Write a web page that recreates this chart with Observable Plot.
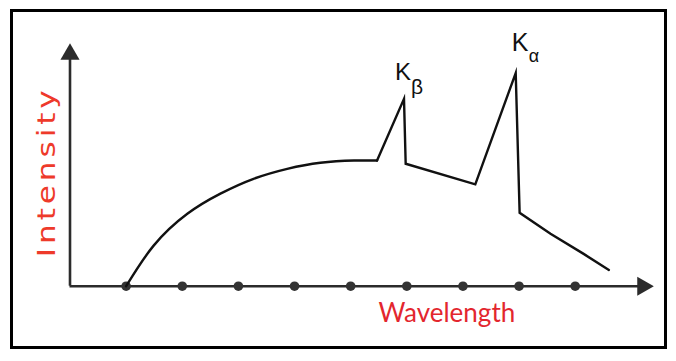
<!DOCTYPE html>
<html><head><meta charset="utf-8">
<script src="https://cdn.jsdelivr.net/npm/d3@7"></script>
<script src="https://cdn.jsdelivr.net/npm/@observablehq/plot@0.6"></script>
<style>
html,body{margin:0;padding:0;background:#fff;}
#wrap{position:relative;width:676px;height:361px;overflow:hidden;background:#fff;}
#wrap svg{position:absolute;left:0;top:0;}
#frame{position:absolute;left:10px;top:9px;width:657px;height:340px;box-sizing:border-box;border:3px solid #000;pointer-events:none;z-index:2;}
</style></head><body>
<div id="wrap"><div id="frame"></div></div>
<script>
// ---- data ----
const xLabel = "Wavelength";
const yLabel = "Intensity";
const dotWavelengths = [1, 2, 3, 4, 5, 6, 7, 8, 9];
const axisXMax = 10.4;
const axisYMax = 10;
// continuous (bremsstrahlung) part
const contX = [1.0, 1.49, 2.09, 2.68, 3.27, 3.87, 4.46, 5.06, 5.47];
const contY = [0, 1.67, 2.98, 3.81, 4.42, 4.83, 5.08, 5.17, 5.17];
// characteristic peaks part
const lineX = [5.47, 5.95, 5.98, 7.22, 7.94, 8.01, 8.56, 9.15, 9.60];
const lineY = [5.17, 7.71, 5.04, 4.19, 8.77, 3.02, 2.16, 1.33, 0.67];
const peakMain = ["K", "K"];
const peakSub = ["β", "α"];
const peakIndex = [1, 4]; // index into lineX/lineY

const cont = contX.map((x, i) => ({x, y: contY[i]}));
const lines = lineX.map((x, i) => ({x, y: lineY[i]}));
const peaks = peakMain.map((m, i) => ({main: m, sub: peakSub[i], x: lineX[peakIndex[i]], y: lineY[peakIndex[i]]}));

const ink = "#2b2b2b";
const plot = Plot.plot({
  width: 676, height: 361,
  marginLeft: 69.5, marginRight: 22.7, marginTop: 42.7, marginBottom: 75.3,
  x: {domain: [0, axisXMax], axis: null},
  y: {domain: [0, axisYMax], axis: null},
  style: {background: "transparent", overflow: "visible"},
  marks: [
    Plot.ruleY([0], {x1: 0, x2: axisXMax - 0.2, stroke: ink, strokeWidth: 2.6}),
    Plot.ruleX([0], {y1: 0, y2: axisYMax - 0.4, stroke: ink, strokeWidth: 2.6}),
    Plot.dot([axisXMax], {x: d => d, y: 0, symbol: "triangle", r: 7.1, fill: ink, stroke: null, rotate: 90, dx: -11}),
    Plot.dot([axisYMax], {x: 0, y: d => d, symbol: "triangle", r: 7.1, fill: ink, stroke: null, dy: 11}),
    Plot.dot(dotWavelengths, {x: d => d, y: 0, r: 4.8, fill: "#333", stroke: null}),
    Plot.line(cont, {x: "x", y: "y", curve: "natural", stroke: "#111", strokeWidth: 2.4}),
    Plot.line(lines, {x: "x", y: "y", curve: "linear", stroke: "#111", strokeWidth: 2.4, strokeLinejoin: "miter", strokeMiterlimit: 20}),
    // peak labels
    Plot.text(peaks.filter((d, i) => i === 0), {x: "x", y: "y", text: "main", textAnchor: "start", lineAnchor: "bottom", dx: -9, dy: -19.3, fontSize: 24, fontFamily: "Liberation Sans", fill: "#111"}),
    Plot.text(peaks.filter((d, i) => i === 0), {x: "x", y: "y", text: "sub", textAnchor: "start", lineAnchor: "bottom", dx: 7, dy: -5, fontSize: 21, fontFamily: "Liberation Sans", fill: "#111"}),
    Plot.text(peaks.filter((d, i) => i === 1), {x: "x", y: "y", text: "main", textAnchor: "start", lineAnchor: "bottom", dx: -4, dy: -21.7, fontSize: 25, fontFamily: "Liberation Sans", fill: "#111"}),
    Plot.text(peaks.filter((d, i) => i === 1), {x: "x", y: "y", text: "sub", textAnchor: "start", lineAnchor: "bottom", dx: 13, dy: -11, fontSize: 18, fontFamily: "Liberation Sans", fill: "#111"}),
    // axis titles
    Plot.text([yLabel], {text: d => d, frameAnchor: "left", textAnchor: "middle", rotate: -90, dx: -22.5, dy: 7, fontSize: 24, fontFamily: "DejaVu Sans", fill: "#ee3a2a"}),
    Plot.text([xLabel], {text: d => d, frameAnchor: "bottom", textAnchor: "middle", lineAnchor: "bottom", dx: 85, dy: 36, fontSize: 26, fontFamily: "Lato", fill: "#e3262e"})
  ]
});
document.getElementById("wrap").appendChild(plot);
d3.select(plot).selectAll("text").filter(function () { return this.textContent === yLabel; })
  .attr("letter-spacing", "3px")
  .attr("transform", function () { return (this.getAttribute("transform") || "") + " scale(1.3,1)"; });
</script>
</body></html>
